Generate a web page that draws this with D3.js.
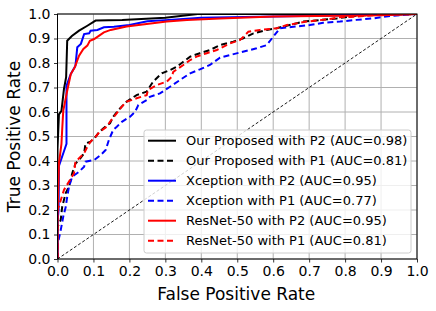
<!DOCTYPE html>
<html>
<head>
<meta charset="utf-8">
<script src="https://cdn.jsdelivr.net/npm/d3@7"></script>
<style>
  body { margin: 0; background: #fff; }
  svg text { font-family: "DejaVu Sans", sans-serif; fill: #000; }
</style>
</head>
<body>
<div id="chart"></div>
<script>
// ROC points [fpr, tpr]
const oursP2 = [[0,0],[0,0.45],[0.004,0.59],[0.011,0.605],[0.018,0.694],[0.024,0.742],[0.027,0.891],[0.04,0.91],[0.06,0.932],[0.083,0.952],[0.106,0.973],[0.18,0.976],[0.3,0.985],[0.39,1.0],[1,1]];
const oursP1 = [[0,0],[0,0.13],[0.009,0.16],[0.013,0.213],[0.023,0.27],[0.032,0.295],[0.041,0.35],[0.05,0.39],[0.06,0.404],[0.074,0.431],[0.078,0.472],[0.092,0.479],[0.106,0.499],[0.115,0.516],[0.127,0.533],[0.146,0.554],[0.155,0.581],[0.174,0.615],[0.192,0.642],[0.22,0.669],[0.248,0.683],[0.266,0.724],[0.29,0.758],[0.313,0.771],[0.332,0.785],[0.35,0.805],[0.369,0.826],[0.396,0.84],[0.424,0.853],[0.452,0.873],[0.489,0.887],[0.517,0.901],[0.545,0.921],[0.582,0.935],[0.61,0.942],[0.684,0.969],[0.777,0.982],[0.823,0.992],[0.869,0.996],[1,1]];
const xcepP2 = [[0,0],[0,0.15],[0.003,0.2],[0.004,0.38],[0.018,0.44],[0.025,0.47],[0.025,0.707],[0.037,0.755],[0.05,0.789],[0.055,0.864],[0.065,0.878],[0.074,0.918],[0.088,0.921],[0.092,0.932],[0.111,0.935],[0.129,0.946],[0.157,0.948],[0.2,0.955],[0.25,0.97],[0.3,0.975],[0.4,0.985],[0.6,0.99],[0.8,0.995],[1,1]];
const xcepP1 = [[0,0],[0.001,0.064],[0.009,0.118],[0.016,0.173],[0.023,0.213],[0.027,0.254],[0.032,0.295],[0.041,0.336],[0.06,0.356],[0.074,0.377],[0.078,0.397],[0.102,0.404],[0.12,0.424],[0.134,0.445],[0.143,0.486],[0.155,0.527],[0.165,0.54],[0.179,0.56],[0.202,0.581],[0.216,0.601],[0.225,0.629],[0.248,0.649],[0.257,0.662],[0.285,0.676],[0.313,0.703],[0.341,0.731],[0.369,0.758],[0.396,0.774],[0.424,0.792],[0.452,0.822],[0.508,0.843],[0.554,0.86],[0.582,0.873],[0.6,0.907],[0.619,0.942],[0.656,0.948],[0.702,0.955],[0.739,0.964],[0.786,0.969],[0.832,0.976],[0.878,0.982],[0.925,0.992],[1,1]];
const resP2 = [[0,0],[0,0.17],[0.004,0.39],[0.011,0.47],[0.013,0.527],[0.016,0.605],[0.027,0.687],[0.037,0.755],[0.048,0.782],[0.06,0.83],[0.072,0.857],[0.083,0.871],[0.09,0.891],[0.102,0.898],[0.115,0.911],[0.129,0.925],[0.148,0.935],[0.192,0.949],[0.248,0.959],[0.304,0.969],[0.36,0.976],[0.452,0.982],[0.6,0.99],[0.9,0.995],[1,1]];
const resP1 = [[0,0],[0,0.2],[0.009,0.24],[0.018,0.282],[0.032,0.316],[0.046,0.35],[0.05,0.397],[0.06,0.411],[0.074,0.431],[0.083,0.458],[0.092,0.479],[0.106,0.499],[0.118,0.52],[0.137,0.54],[0.146,0.56],[0.165,0.595],[0.179,0.622],[0.192,0.642],[0.22,0.656],[0.248,0.669],[0.252,0.69],[0.276,0.71],[0.304,0.724],[0.318,0.744],[0.322,0.764],[0.35,0.792],[0.369,0.812],[0.387,0.826],[0.415,0.84],[0.443,0.853],[0.48,0.88],[0.508,0.894],[0.522,0.914],[0.531,0.928],[0.563,0.935],[0.61,0.942],[0.638,0.955],[0.693,0.969],[0.749,0.978],[0.786,0.987],[0.832,0.989],[0.888,0.996],[1,1]];

const seriesNames = ["Our Proposed with P2 (AUC=0.98)", "Our Proposed with P1 (AUC=0.81)",
  "Xception with P2 (AUC=0.95)", "Xception with P1 (AUC=0.77)",
  "ResNet-50 with P2 (AUC=0.95)", "ResNet-50 with P1 (AUC=0.81)"];
const seriesData = [oursP2, oursP1, xcepP2, xcepP1, resP2, resP1];
const seriesColors = ["#000000", "#000000", "#0000ff", "#0000ff", "#ff0000", "#ff0000"];
const seriesDashed = [false, true, false, true, false, true];
const ticks = [0, 0.1, 0.2, 0.3, 0.4, 0.5, 0.6, 0.7, 0.8, 0.9, 1.0];

const width = 436, height = 311;
const m = { left: 57.5, right: 19, top: 14, bottom: 52 };
const pw = width - m.left - m.right, ph = height - m.top - m.bottom;

const svg = d3.select("#chart").append("svg")
  .attr("width", width).attr("height", height);

const x = d3.scaleLinear().domain([0, 1]).range([m.left, m.left + pw]);
const y = d3.scaleLinear().domain([0, 1]).range([m.top + ph, m.top]);

svg.append("clipPath").attr("id", "clip").append("rect")
  .attr("x", m.left).attr("y", m.top).attr("width", pw).attr("height", ph);

// grid
const grid = svg.append("g").attr("stroke", "#b0b0b0").attr("stroke-width", 1);
grid.selectAll(".gx").data(ticks).enter().append("line")
  .attr("x1", d => x(d)).attr("x2", d => x(d)).attr("y1", m.top).attr("y2", m.top + ph);
grid.selectAll(".gy").data(ticks).enter().append("line")
  .attr("y1", d => y(d)).attr("y2", d => y(d)).attr("x1", m.left).attr("x2", m.left + pw);

const line = d3.line().x(d => x(d[0])).y(d => y(d[1]));
const plot = svg.append("g").attr("clip-path", "url(#clip)");

seriesData.forEach((s, i) => {
  plot.append("path").datum(s)
    .attr("d", line)
    .attr("fill", "none")
    .attr("stroke", seriesColors[i])
    .attr("stroke-width", 2)
    .attr("stroke-dasharray", seriesDashed[i] ? "6,3.5" : null);
});

// chance line
plot.append("path").datum([[0, 0], [1, 1]])
  .attr("d", line).attr("fill", "none")
  .attr("stroke", "#000").attr("stroke-width", 0.9)
  .attr("stroke-dasharray", "3,2");

// axes
const xAxis = svg.append("g").attr("transform", `translate(0,${m.top + ph})`)
  .call(d3.axisBottom(x).tickValues(ticks).tickFormat(d3.format(".1f")).tickSizeOuter(0).tickSize(3.5).tickPadding(3.5));
const yAxis = svg.append("g").attr("transform", `translate(${m.left},0)`)
  .call(d3.axisLeft(y).tickValues(ticks).tickFormat(d3.format(".1f")).tickSizeOuter(0).tickSize(3.5).tickPadding(3.5));
[xAxis, yAxis].forEach(a => {
  a.select(".domain").remove();
  a.selectAll("text").style("font-size", "14px").style("font-family", "DejaVu Sans");
  a.selectAll("line").attr("stroke", "#000").attr("stroke-width", 0.8);
});

// spines
svg.append("rect").attr("x", m.left).attr("y", m.top).attr("width", pw).attr("height", ph)
  .attr("fill", "none").attr("stroke", "#000").attr("stroke-width", 1);

svg.append("text").attr("x", m.left + pw / 2 - 1).attr("y", 300)
  .attr("text-anchor", "middle").style("font-size", "17px").text("False Positive Rate");
svg.append("text").attr("transform", `translate(20,${m.top + ph / 2}) rotate(-90)`)
  .attr("text-anchor", "middle").style("font-size", "17px").text("True Positive Rate");

// legend
const lg = svg.append("g");
lg.append("rect").attr("x", 144).attr("y", 130).attr("width", 267).attr("height", 123)
  .attr("rx", 2.5).attr("fill", "#fff").attr("fill-opacity", 0.8)
  .attr("stroke", "#cccccc").attr("stroke-width", 1);
seriesNames.forEach((n, i) => {
  const yy = 140.7 + i * 20;
  lg.append("line").attr("x1", 148).attr("x2", 176).attr("y1", yy).attr("y2", yy)
    .attr("stroke", seriesColors[i]).attr("stroke-width", 2)
    .attr("stroke-dasharray", seriesDashed[i] ? "6,3.5" : null);
  lg.append("text").attr("x", 186).attr("y", yy).attr("dy", "0.36em")
    .style("font-size", "13px").text(n);
});
</script>
</body>
</html>
